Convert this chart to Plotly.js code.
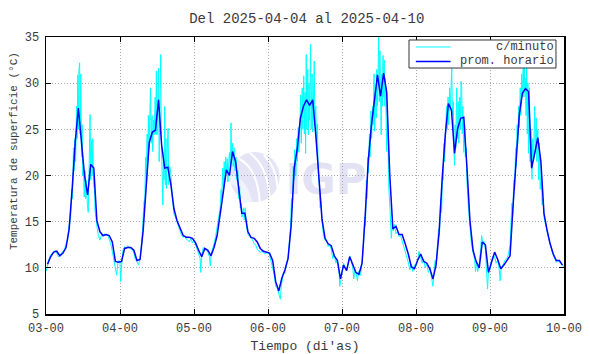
<!DOCTYPE html>
<html><head><meta charset="utf-8">
<script src="https://cdn.plot.ly/plotly-3.0.1.min.js"></script>
<style>html,body{margin:0;padding:0;background:#fff}#chart{width:590px;height:354px}</style>
</head><body><div id="chart"></div>
<script>
// X tick positions (day of month) and labels
const dayTicks = [3, 4, 5, 6, 7, 8, 9, 10];
const dayTickLabels = ['03-00', '04-00', '05-00', '06-00', '07-00', '08-00', '09-00', '10-00'];
const yTicks = [5, 10, 15, 20, 25, 30, 35];
const seriesNames = ['c/minuto', 'prom. horario'];
const seriesColors = ['#00ffff', '#0000ff'];

// Hourly mean ("prom. horario"), 24 values per day, plotted at hh:30
const horario03 = [10.4, 11.2, 11.7, 11.8, 11.3, 11.6, 12.2, 14.2, 18.6, 23.7, 27.3, 23.7, 20.0, 17.9, 21.2, 20.8, 15.1, 13.9, 13.5, 13.6, 13.5, 12.8, 10.7, 10.6];
const horario04 = [10.7, 12.1, 12.2, 12.2, 11.9, 10.8, 10.9, 14.0, 19.0, 23.6, 24.7, 24.9, 28.2, 23.3, 20.8, 20.9, 19.0, 16.4, 15.1, 14.2, 13.5, 13.3, 13.3, 13.2];
const horario05 = [12.7, 11.9, 11.2, 12.1, 11.9, 11.3, 12.2, 13.5, 16.1, 18.2, 20.6, 20.0, 22.6, 21.5, 18.6, 15.9, 15.9, 13.9, 13.3, 13.2, 12.8, 12.1, 11.8, 11.7];
const horario06 = [11.6, 10.8, 8.5, 7.5, 8.9, 9.8, 11.0, 14.5, 20.8, 22.9, 26.2, 27.5, 28.2, 27.6, 28.2, 24.4, 20.0, 15.3, 13.2, 12.6, 12.4, 11.3, 10.8, 8.8];
const horario07 = [10.3, 9.7, 11.2, 10.3, 9.5, 9.3, 10.5, 15.5, 21.5, 25.3, 28.0, 30.9, 28.6, 31.1, 29.0, 20.0, 14.2, 14.5, 13.6, 13.6, 12.6, 11.5, 10.1, 9.9];
const horario08 = [10.8, 11.5, 10.7, 10.5, 9.9, 8.8, 10.3, 13.9, 19.7, 24.4, 27.8, 27.1, 22.4, 25.1, 26.2, 26.3, 21.0, 15.1, 11.9, 10.7, 10.0, 12.8, 12.5, 9.5];
const horario09 = [10.6, 11.7, 10.9, 9.9, 10.3, 10.8, 11.3, 16.8, 22.2, 26.6, 28.9, 29.4, 29.1, 20.8, 22.4, 24.1, 21.5, 15.9, 14.1, 12.6, 11.5, 10.8, 10.8, 10.3];

// Per-minute readings ("c/minuto") as [hours since 03-00, value]
const minuto03 = [[0,9.6],[0.5,10.4],[1,11.0],[1.5,11.4],[2,11.6],[2.5,11.8],[3,11.9],[3.5,11.6],[4,11.2],[4.5,11.4],[5,11.6],[5.5,11.8],[6,12.0],[6.5,12.6],[7,13.0],[7.5,14.6],[8.0,15.5],[8.3,18.5],[8.6,17.5],[8.9,23.0],[9.1,20.5],[9.4,24.0],[9.6,21.5],[9.9,27.5],[10.1,24.0],[10.3,30.9],[10.5,25.0],[10.7,31.5],[10.9,32.2],[11.1,24.5],[11.3,31.0],[11.5,22.0],[11.7,25.5],[11.9,20.0],[12.1,21.5],[12.4,17.7],[12.7,20.5],[12.9,17.5],[13.1,19.5],[13.4,17.0],[13.7,16.0],[14.0,21.0],[14.3,26.6],[14.5,19.5],[14.8,23.8],[15.0,20.0],[15.2,24.0],[15.4,19.0],[15.7,18.5],[15.9,16.2],[16.2,15.2],[16.6,14.3],[17,13.5],[17.5,13.0],[18,13.6],[18.5,13.4],[19,13.7],[19.5,13.5],[20,13.6],[20.5,13.2],[21,12.6],[21.5,11.8],[22,10.8],[22.5,10.0],[22.9,9.2],[23.3,10.5],[23.7,10.8]];
const minuto04 = [[24.0,10.6],[24.2,8.5],[24.5,10.2],[25,12.0],[25.5,12.3],[26,12.1],[26.5,12.4],[27,12.2],[27.5,12.0],[28,12.0],[28.5,11.6],[29,10.9],[29.5,10.7],[30,10.3],[30.5,11.0],[31.0,12.4],[31.5,14.8],[31.8,17.2],[32.0,16.5],[32.3,22.0],[32.5,19.5],[32.8,24.5],[33.0,21.5],[33.2,26.5],[33.4,22.9],[33.7,27.0],[33.9,29.5],[34.1,23.5],[34.4,26.5],[34.6,22.6],[34.9,26.0],[35.1,24.4],[35.4,28.5],[35.6,24.5],[35.8,31.3],[36.0,24.4],[36.2,29.5],[36.5,31.6],[36.7,21.5],[36.9,28.0],[37.2,33.1],[37.4,24.0],[37.6,20.5],[37.9,16.8],[38.1,22.0],[38.3,19.5],[38.5,27.5],[38.7,19.0],[38.9,24.0],[39.1,18.6],[39.3,22.5],[39.6,25.1],[39.8,19.0],[40.1,21.0],[40.4,20.5],[40.7,18.2],[41.0,17.5],[41.5,15.8],[42,15.5],[42.5,15.0],[43,14.6],[43.5,14.0],[44,13.5],[44.5,13.3],[45,13.5],[45.5,13.1],[46,13.0],[46.5,12.8],[47,13.2],[47.5,12.7]];
const minuto05 = [[48.0,13.0],[48.5,12.5],[49,12.0],[49.5,11.6],[50.0,11.0],[50.2,9.5],[50.5,11.4],[51,12.2],[51.5,11.9],[52,12.0],[52.5,11.7],[53,11.2],[53.3,10.2],[53.6,11.6],[54,12.0],[54.5,12.6],[55,13.4],[55.5,14.5],[56,15.8],[56.5,16.5],[56.8,18.5],[57.0,17.5],[57.3,20.8],[57.5,18.5],[57.8,21.5],[58.0,19.5],[58.3,22.0],[58.5,20.5],[58.8,21.8],[59.0,19.3],[59.3,21.5],[59.5,22.5],[59.8,20.5],[60.0,25.7],[60.2,22.0],[60.5,23.5],[60.7,21.0],[61.0,23.0],[61.3,20.5],[61.6,22.0],[61.9,19.5],[62.2,20.5],[62.5,17.5],[62.8,18.8],[63.0,16.5],[63.3,17.0],[63.6,15.5],[64,16.5],[64.3,15.2],[64.6,16.5],[65,14.5],[65.5,13.6],[66,13.4],[66.5,13.2],[67,13.0],[67.5,12.6],[68,12.5],[68.5,12.0],[69,11.8],[69.5,11.7],[70,11.8],[70.5,11.6],[71,11.5],[71.5,11.6]];
const minuto06 = [[72.0,11.7],[72.5,11.4],[73.0,10.5],[73.5,10.0],[74.0,9.2],[74.5,8.0],[75.0,7.8],[75.5,7.2],[76.0,6.6],[76.3,8.0],[76.6,8.6],[77.0,9.5],[77.5,9.4],[78.0,10.5],[78.5,11.0],[79.0,12.8],[79.3,14.5],[79.6,17.5],[79.9,16.5],[80.2,21.0],[80.4,19.5],[80.7,22.8],[81.0,20.0],[81.3,24.0],[81.5,21.5],[81.8,25.2],[82.0,22.5],[82.3,24.5],[82.6,28.7],[82.8,23.5],[83.1,29.5],[83.3,25.0],[83.6,30.8],[83.8,24.5],[84.0,29.0],[84.2,22.4],[84.4,33.1],[84.6,25.0],[84.9,31.5],[85.1,24.4],[85.3,30.0],[85.5,26.0],[85.8,34.2],[86.0,25.0],[86.3,31.0],[86.5,24.7],[86.8,29.5],[87.0,32.4],[87.2,25.5],[87.5,27.5],[87.7,23.5],[88.0,25.6],[88.3,20.3],[88.6,19.0],[88.9,16.5],[89.2,17.2],[89.5,15.0],[90,13.5],[90.5,13.0],[91,13.0],[91.5,12.3],[92,12.6],[92.5,12.0],[93,11.0],[93.5,11.5],[94,10.5],[94.5,10.9],[95,9.8],[95.3,8.0],[95.6,8.8]];
const minuto07 = [[96.0,9.5],[96.5,10.5],[97.0,10.0],[97.5,9.8],[98.0,10.5],[98.5,11.3],[99.0,10.8],[99.5,10.0],[99.8,8.8],[100.2,9.8],[100.6,9.4],[101.0,8.6],[101.4,9.6],[102.0,9.2],[102.5,10.5],[103.0,12.5],[103.3,15.5],[103.6,14.5],[103.9,19.5],[104.1,17.5],[104.4,22.0],[104.6,20.3],[104.9,24.5],[105.1,22.0],[105.4,27.0],[105.6,24.0],[105.9,27.5],[106.1,25.5],[106.4,31.0],[106.6,24.8],[106.9,29.5],[107.1,26.2],[107.3,31.5],[107.5,27.5],[107.9,35.0],[108.1,28.0],[108.3,33.5],[108.5,27.0],[108.7,24.4],[108.9,31.0],[109.1,27.5],[109.3,33.0],[109.5,28.5],[109.7,32.5],[109.9,27.5],[110.1,30.5],[110.3,25.0],[110.5,22.6],[110.7,27.5],[110.9,21.0],[111.2,18.5],[111.5,16.8],[111.7,14.5],[112.0,13.2],[112.3,15.0],[112.6,14.0],[113.0,14.7],[113.5,13.7],[114,13.9],[114.5,13.4],[115,13.5],[115.5,12.9],[116,12.6],[116.5,11.9],[117,11.3],[117.5,10.6],[118,9.8],[118.5,10.4],[119,9.6],[119.5,10.3]];
const minuto08 = [[120.0,10.2],[120.5,10.8],[121.0,11.8],[121.5,11.2],[122.0,10.5],[122.5,10.9],[123.0,10.0],[123.5,10.5],[124.0,9.5],[124.5,10.0],[125.0,8.8],[125.5,8.0],[125.8,9.5],[126.2,10.8],[126.6,10.4],[127.0,12.8],[127.3,14.2],[127.6,13.5],[128.0,17.5],[128.3,16.0],[128.6,20.5],[128.8,19.5],[129.1,23.5],[129.3,21.5],[129.6,24.5],[129.9,27.5],[130.1,25.0],[130.4,28.5],[130.6,25.5],[130.9,29.5],[131.1,27.0],[131.4,30.0],[131.6,31.6],[131.8,26.5],[132.1,28.0],[132.3,23.0],[132.5,21.1],[132.7,25.5],[132.9,23.0],[133.2,29.5],[133.4,24.0],[133.7,28.0],[133.9,23.5],[134.2,28.5],[134.4,25.0],[134.6,30.2],[134.8,30.0],[135.0,24.5],[135.2,27.5],[135.5,22.5],[135.8,25.5],[136.0,22.0],[136.3,23.0],[136.5,19.5],[136.8,17.5],[137.0,16.5],[137.5,14.5],[138.0,12.5],[138.5,11.7],[139.0,10.9],[139.3,9.6],[139.6,10.6],[140.0,9.6],[140.5,10.4],[141.0,12.2],[141.3,13.5],[141.7,12.5],[142.0,12.9],[142.5,12.0],[142.8,10.5],[143.2,7.7],[143.5,9.6]];
const minuto09 = [[144.0,9.8],[144.5,10.8],[145.0,11.3],[145.5,11.2],[146.0,10.5],[146.5,10.8],[147.0,9.8],[147.3,8.6],[147.6,10.0],[148.0,10.2],[148.5,10.5],[149.0,10.9],[149.5,11.0],[150.0,11.5],[150.5,12.5],[150.8,14.5],[151.1,17.0],[151.4,15.8],[151.7,19.5],[152.0,18.5],[152.3,23.0],[152.5,21.0],[152.8,25.5],[153.0,23.5],[153.3,27.5],[153.5,25.2],[153.8,29.5],[154.0,26.5],[154.3,31.0],[154.5,28.5],[154.8,32.0],[155.0,28.5],[155.1,33.2],[155.3,29.0],[155.5,30.5],[155.7,26.5],[155.9,32.5],[156.1,24.5],[156.3,30.0],[156.5,22.4],[156.8,29.5],[157.0,21.5],[157.3,25.0],[157.6,19.6],[157.9,24.0],[158.1,21.5],[158.5,27.5],[158.7,22.5],[159.0,26.2],[159.2,21.5],[159.5,25.0],[159.8,19.5],[160.0,23.5],[160.3,18.5],[160.6,20.5],[160.9,16.8],[161.2,17.5],[161.6,15.3],[162,14.8],[162.5,14.0],[163,13.2],[163.5,12.4],[164,12.0],[164.5,11.4],[165,11.0],[165.5,10.6],[166,10.8],[166.5,10.6],[167,10.5],[167.5,10.2],[168,10.1]];

const startDay = 3;
const horarioDays = [horario03, horario04, horario05, horario06, horario07, horario08, horario09];
const minutoDays = [minuto03, minuto04, minuto05, minuto06, minuto07, minuto08, minuto09];

const hx = [], hy = [];
horarioDays.forEach((arr, d) => arr.forEach((v, h) => { hx.push(startDay + d + (h + 0.5) / 24); hy.push(v); }));
const mx = [], my = [];
minutoDays.forEach(arr => arr.forEach(p => { mx.push(startDay + p[0] / 24); my.push(p[1]); }));

const FONT = "'Liberation Mono', 'Courier New', monospace";
const TXT = '#3a3a3a';

const logoSvg = '<svg xmlns="http://www.w3.org/2000/svg" width="137" height="54" viewBox="0 0 137 54">' +
  '<circle cx="27" cy="27" r="25" fill="#e4e4f6"/>' +
  '<path d="M3,30 Q14,30 20,52" stroke="#eef3fc" stroke-width="9" fill="none"/>' +
  '<path d="M10,8 Q30,18 32,52" stroke="#ffffff" stroke-width="2" fill="none"/>' +
  '<path d="M22,3 Q40,16 42,48" stroke="#ffffff" stroke-width="2" fill="none"/>' +
  '<path d="M36,5 Q48,16 50,38" stroke="#ffffff" stroke-width="2" fill="none"/>' +
  '<text x="58" y="44" font-family="DejaVu Sans" font-weight="bold" font-size="42" fill="#e2e2f4">IGP</text></svg>';

const traces = [
  { x: mx, y: my, type: 'scatter', mode: 'lines', name: seriesNames[0],
    line: { color: seriesColors[0], width: 1 } },
  { x: hx, y: hy, type: 'scatter', mode: 'lines', name: seriesNames[1],
    line: { color: seriesColors[1], width: 1.5 } }
];

const axisCommon = {
  showline: true, linecolor: '#000', linewidth: 1.5, mirror: 'ticks',
  ticks: 'inside', ticklen: 5, tickcolor: '#000', tickwidth: 1,
  showgrid: true, gridcolor: '#a8a8a8', griddash: '1px,2px', gridwidth: 1,
  zeroline: false, tickfont: { family: FONT, size: 12, color: TXT }
};

// hand-drawn legend box (paper coordinates)
const legX0 = 0.7008, legX1 = 0.9845, legY0 = 0.8880, legY1 = 0.9892;
const legRowY = [0.9640, 0.9116];
const legSampleX = [0.714, 0.781];

const layout = {
  width: 590, height: 354,
  margin: { l: 46, r: 26, t: 37, b: 40, pad: 0 },
  paper_bgcolor: '#fff', plot_bgcolor: '#fff',
  font: { family: FONT, size: 12, color: TXT },
  showlegend: false,
  title: { text: 'Del 2025-04-04 al 2025-04-10', font: { family: FONT, size: 14, color: TXT },
           x: 0.52, xanchor: 'center', y: 0.948, yanchor: 'middle' },
  xaxis: Object.assign({}, axisCommon, {
    range: [3, 10], tickmode: 'array', tickvals: dayTicks, ticktext: dayTickLabels,
    ticklabelstandoff: 2,
    title: { text: "Tiempo (di'as)", font: { family: FONT, size: 13, color: TXT }, standoff: 6 }
  }),
  yaxis: Object.assign({}, axisCommon, {
    range: [5, 35], tickmode: 'array', tickvals: yTicks, ticklabelstandoff: 3
  }),
  annotations: [
    { text: 'Temperatura de superficie (°C)', textangle: -90, xref: 'paper', yref: 'paper',
      x: -0.0618, y: 0.588, xanchor: 'center', yanchor: 'middle', showarrow: false,
      font: { family: FONT, size: 11, color: TXT } },
    { text: seriesNames[0], xref: 'paper', yref: 'paper', x: 0.983, y: legRowY[0],
      xanchor: 'right', yanchor: 'middle', showarrow: false, borderpad: 0,
      font: { family: FONT, size: 12, color: TXT } },
    { text: seriesNames[1], xref: 'paper', yref: 'paper', x: 0.983, y: legRowY[1],
      xanchor: 'right', yanchor: 'middle', showarrow: false, borderpad: 0,
      font: { family: FONT, size: 12, color: TXT } }
  ],
  shapes: [
    { type: 'rect', xref: 'paper', yref: 'paper', x0: legX0, x1: legX1, y0: legY0, y1: legY1,
      line: { color: '#333', width: 1 }, fillcolor: '#fff', layer: 'above' },
    { type: 'line', xref: 'paper', yref: 'paper', x0: legSampleX[0], x1: legSampleX[1], y0: legRowY[0], y1: legRowY[0],
      line: { color: seriesColors[0], width: 1 }, layer: 'above' },
    { type: 'line', xref: 'paper', yref: 'paper', x0: legSampleX[0], x1: legSampleX[1], y0: legRowY[1], y1: legRowY[1],
      line: { color: seriesColors[1], width: 1.5 }, layer: 'above' }
  ],
  images: [{
    source: 'data:image/svg+xml;base64,' + btoa(logoSvg),
    xref: 'paper', yref: 'paper', x: 0.351, y: 0.592, sizex: 0.264, sizey: 0.195,
    xanchor: 'left', yanchor: 'top', sizing: 'stretch', layer: 'below'
  }]
};

Plotly.newPlot('chart', traces, layout, { displayModeBar: false, staticPlot: true });
</script>
</body></html>
